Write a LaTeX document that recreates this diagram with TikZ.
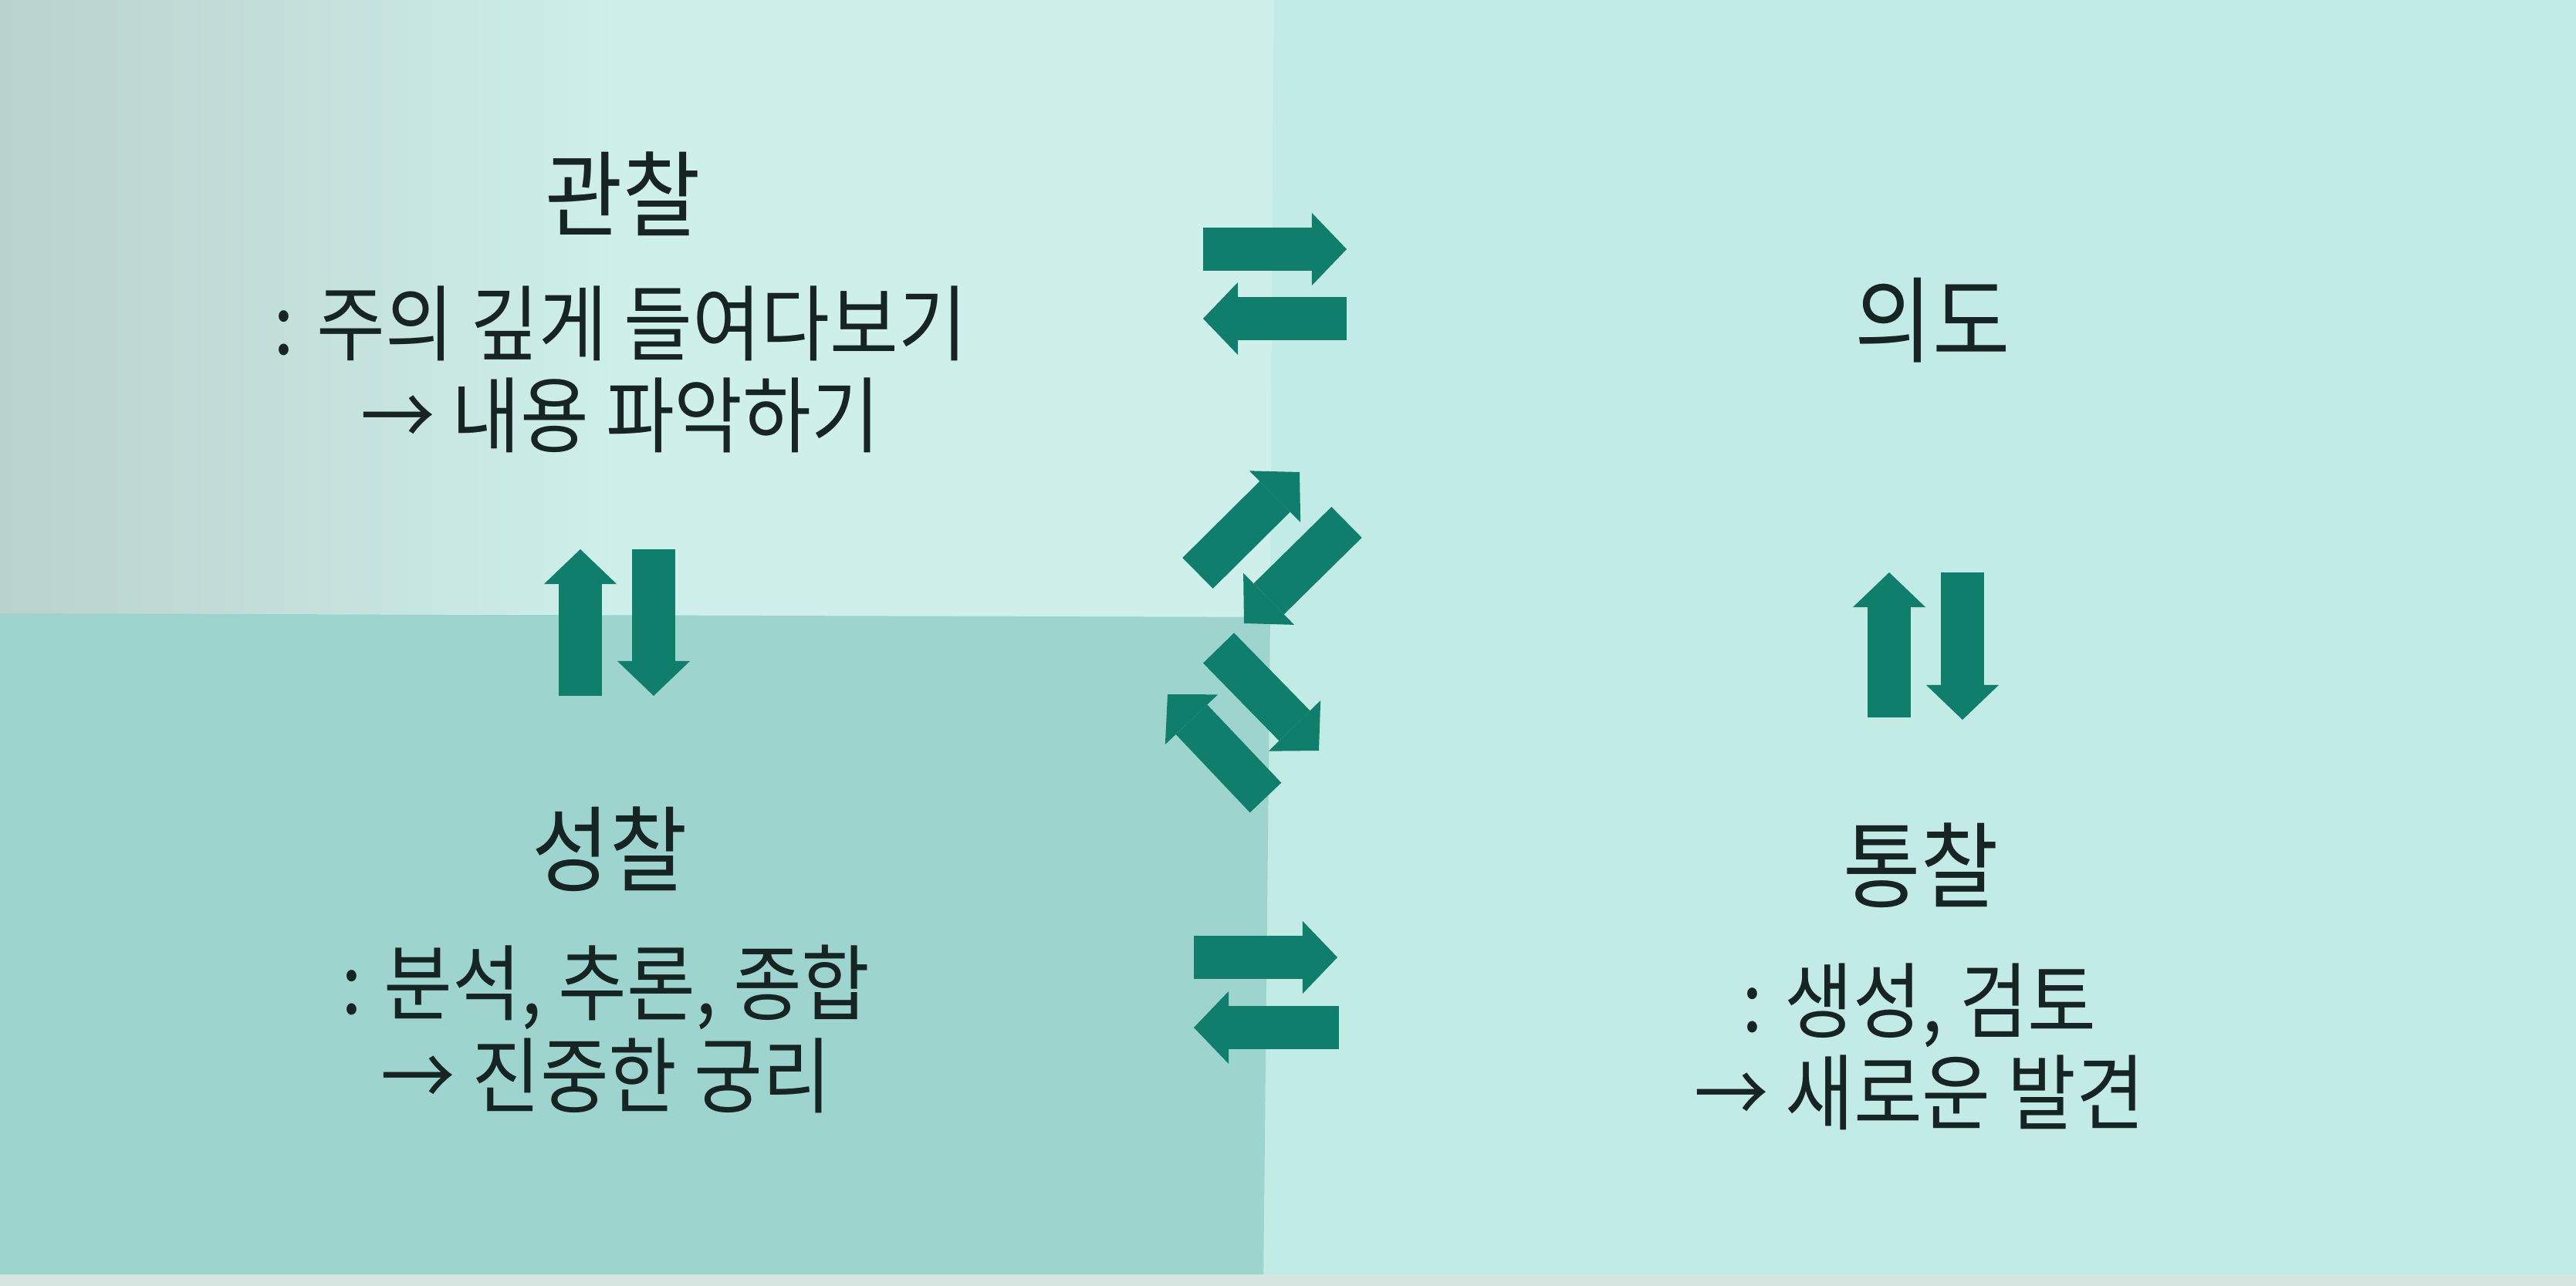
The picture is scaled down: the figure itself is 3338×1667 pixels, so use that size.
\documentclass[tikz,border=0pt]{standalone}
\usepackage{fontspec}
\setmainfont{Noto Sans CJK KR}[FakeStretch=0.9]
\usetikzlibrary{arrows.meta}

\definecolor{arrowgreen}{HTML}{0F7E6A}
\definecolor{inkdark}{HTML}{162423}
\definecolor{paleTL}{HTML}{CEEFEA}
\definecolor{greyTL}{HTML}{BAD2CE}
\definecolor{paleR}{HTML}{C2EBE5}
\definecolor{darkBL}{HTML}{9DD5CE}
\definecolor{pagebot}{HTML}{D6E5E0}

\tikzset{
  stagename/.style={text=inkdark, inner sep=0pt, font=\fontsize{34.5}{40}\selectfont},
  stagenote/.style={text=inkdark, inner sep=0pt, align=center, font=\fontsize{30.5}{34}\selectfont},
  blockarrow/.style={draw=arrowgreen, line width=0.56cm,
    -{Triangle[length=0.45cm, width=0.94cm, line width=0pt]}},
}

\begin{document}
\begin{tikzpicture}[x=0.01cm, y=-0.01cm]
\useasboundingbox (0,0) rectangle (3338,1667);

% background panels
\fill[paleR] (0,0) rectangle (3338,1667);
\fill[paleTL] (0,0) -- (1650,0) -- (1646,800) -- (0,795) -- cycle;
\shade[left color=greyTL, right color=paleTL] (0,0) rectangle (800,795);
\fill[darkBL] (0,795) -- (1646,800) -- (1637,1667) -- (0,1667) -- cycle;
\fill[pagebot] (0,1652) rectangle (3338,1667);

\node[stagename] (gwan) at (807, 251) {관찰};
\node[stagenote] (gwannote) at (804, 479) {: 주의 깊게 들여다보기\\→ 내용 파악하기};

\node[stagename] (uido) at (2504, 415) {의도};

\node[stagename] (seong) at (790, 1101) {성찰};
\node[stagenote] (seongnote) at (785, 1334) {: 분석, 추론, 종합\\→ 진중한 궁리};

\node[stagename] (tong) at (2489, 1122) {통찰};
\node[stagenote] (tongnote) at (2487, 1357) {: 생성, 검토\\→ 새로운 발견};

% arrow ends
\coordinate (gu1) at (1559, 323);
\coordinate (gu2) at (1745, 323);
\coordinate (ug1) at (1745, 413);
\coordinate (ug2) at (1559, 413);

\coordinate (gs1) at (847, 712);
\coordinate (gs2) at (847, 902);
\coordinate (sg1) at (752, 902);
\coordinate (sg2) at (752, 712);

\coordinate (ut1) at (2543, 742);
\coordinate (ut2) at (2543, 933);
\coordinate (tu1) at (2448, 930);
\coordinate (tu2) at (2448, 742);

\coordinate (st1) at (1547, 1241);
\coordinate (st2) at (1733, 1241);
\coordinate (ts1) at (1735, 1332);
\coordinate (ts2) at (1547, 1332);

\coordinate (su1) at (1552, 743);
\coordinate (su2) at (1684, 612);
\coordinate (us1) at (1745, 677);
\coordinate (us2) at (1612, 808);

\coordinate (gt1) at (1579, 840);
\coordinate (gt2) at (1709, 973);
\coordinate (tg1) at (1640, 1034);
\coordinate (tg2) at (1513, 900);

\draw[blockarrow] (gu1) -- (gu2);
\draw[blockarrow] (ug1) -- (ug2);

\draw[blockarrow] (gs1) -- (gs2);
\draw[blockarrow] (sg1) -- (sg2);

\draw[blockarrow] (ut1) -- (ut2);
\draw[blockarrow] (tu1) -- (tu2);

\draw[blockarrow] (st1) -- (st2);
\draw[blockarrow] (ts1) -- (ts2);

\draw[blockarrow] (su1) -- (su2);
\draw[blockarrow] (us1) -- (us2);

\draw[blockarrow] (gt1) -- (gt2);
\draw[blockarrow] (tg1) -- (tg2);
\end{tikzpicture}
\end{document}
